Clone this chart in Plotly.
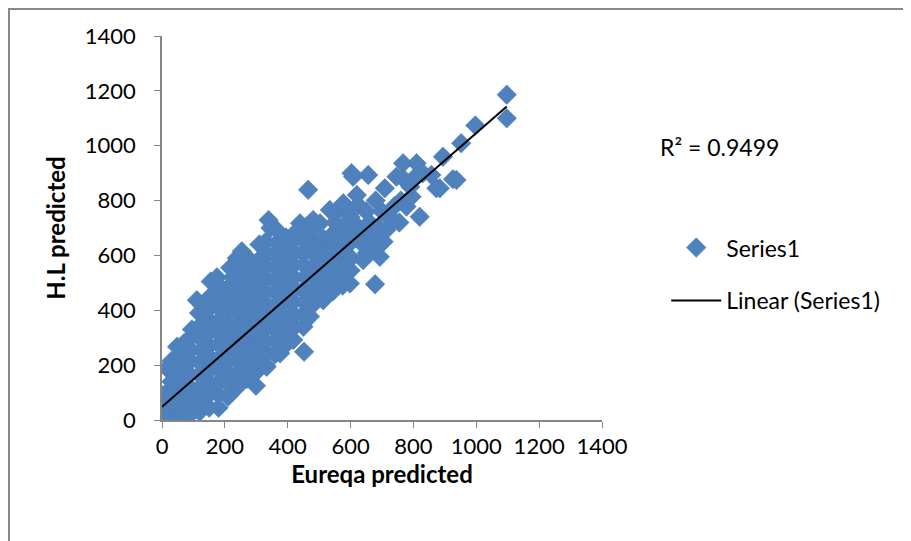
import plotly.graph_objects as go

# Eureqa predicted (x) and H.L predicted (y)
eureqa = [
    0, 5, 10, 0, 8, 3, 20, 25, 16, 30, 16, 37, 45, 40, 35, 30, 48, 55,
    60, 65, 62, 60, 58, 70, 80, 90, 88, 85, 90, 92, 90, 95, 100,
    111, 120, 115, 122, 118, 120, 125, 120, 122, 118, 128,
    150, 148, 152, 150, 155, 150, 148, 152, 150, 153, 155,
    180, 178, 182, 180, 185, 180, 178, 183, 180, 176, 175, 190,
    210, 212, 208, 210, 215, 210, 205, 212, 210, 217, 217, 225,
    240, 238, 242, 240, 245, 240, 238, 242, 240, 238, 245, 248, 254,
    270, 268, 272, 270, 275, 270, 268, 272, 270, 280, 275,
    299, 300, 302, 298, 300, 305, 300, 298, 302, 300, 305, 310,
    330, 333, 328, 330, 335, 330, 328, 332, 330, 335, 330, 339, 345, 333,
    360, 362, 358, 360, 365, 360, 358, 362, 360, 365, 365, 376,
    390, 392, 388, 390, 395, 390, 388, 392, 390, 395,
    418, 422, 420, 418, 425, 420, 418, 422, 420, 439, 430,
    452, 450, 448, 452, 450, 455, 450, 448, 452, 460, 465,
    471, 480, 478, 482, 480, 485, 480, 478, 481, 460,
    513, 510, 508, 512, 510, 515, 503, 524, 534, 534,
    545, 540, 542, 538, 540, 545, 556, 566, 550,
    575, 570, 572, 568, 577, 587, 587, 577, 570,
    598, 600, 602, 598, 603, 608, 624, 600, 610,
    640, 651, 656, 667, 683, 693, 678, 640, 660, 700, 714, 709, 735, 740,
    760, 746, 767, 768, 778, 794, 790, 810, 820, 800, 830, 857, 873, 884,
    894, 926, 937, 952, 997, 1097, 1097, 755, 720, 630, 650, 680, 620, 690, 705,
]
hl = [
    0, 10, 30, 50, 70, 90, 5, 45, 100, 140, 188, 0, 60, 110, 175, 215, 267, 20,
    10, 100, 150, 195, 235, 280, 50, 20, 120, 170, 215, 255, 300, 330, 80,
    437, 30, 75, 120, 165, 210, 255, 300, 345, 390, 420,
    45, 90, 135, 180, 225, 270, 315, 360, 405, 450, 505,
    45, 95, 140, 185, 230, 275, 320, 365, 410, 455, 520, 480,
    85, 130, 175, 220, 265, 310, 355, 400, 445, 490, 555, 520,
    120, 165, 210, 255, 300, 345, 390, 435, 480, 590, 525, 565, 615,
    150, 195, 240, 285, 330, 375, 420, 465, 510, 583, 550,
    125, 175, 220, 265, 310, 355, 400, 445, 490, 535, 580, 640,
    200, 245, 290, 335, 380, 425, 470, 515, 560, 605, 650, 729, 700, 194,
    240, 285, 330, 375, 420, 465, 510, 555, 600, 645, 693, 243,
    270, 315, 360, 405, 450, 495, 540, 585, 630, 665,
    292, 340, 385, 430, 475, 520, 565, 610, 655, 717, 690,
    249, 340, 385, 430, 475, 520, 565, 610, 655, 705, 839,
    377, 420, 465, 510, 555, 600, 645, 690, 729, 389,
    437, 480, 525, 570, 615, 660, 717, 462, 644, 766,
    470, 500, 545, 590, 635, 680, 760, 547, 720,
    490, 525, 570, 615, 705, 632, 766, 790, 660,
    498, 545, 590, 680, 900, 887, 784, 740, 720,
    583, 608, 893, 662, 632, 595, 495, 690, 720, 760, 693, 845, 729, 780,
    800, 887, 936, 880, 778, 814, 850, 936, 741, 880, 900, 893, 845, 845,
    960, 878, 875, 1009, 1074, 1186, 1100, 720, 740, 650, 760, 800, 820, 700, 650,
]

# Linear trendline as displayed by the chart
trend_slope = 0.9985
trend_intercept = 48.0
r_squared_label = "R² = 0.9499"

x_ticks = [0, 200, 400, 600, 800, 1000, 1200, 1400]
y_ticks = [0, 200, 400, 600, 800, 1000, 1200, 1400]

FONT = "Lato"

tx = [min(eureqa), max(eureqa)]
ty = [trend_slope * v + trend_intercept for v in tx]

fig = go.Figure()
fig.add_trace(go.Scatter(
    x=eureqa, y=hl, mode="markers", name="Series1", legendgroup="a",
    marker=dict(symbol="diamond", size=15, color="#4F81BD",
                line=dict(width=0.6, color="#4A7EBB")),
))
fig.add_trace(go.Scatter(
    x=tx, y=ty, mode="lines", name="Linear (Series1)", legendgroup="b",
    line=dict(color="black", width=2),
))

axis_common = dict(
    showgrid=False, zeroline=False, showline=True, linecolor="#868686",
    linewidth=1.5, ticks="outside", ticklen=6, tickcolor="#868686",
    tickfont=dict(family=FONT, size=22, color="black"),
    range=[0, 1400], tickvals=x_ticks,
)
fig.update_xaxes(**axis_common,
                 title=dict(text="<b>Eureqa predicted</b>",
                            font=dict(family=FONT, size=24, color="black"),
                            standoff=6))
fig.update_yaxes(**{**axis_common, "tickvals": y_ticks},
                 ticklabelstandoff=14,
                 title=dict(text="<b>H.L predicted</b>",
                            font=dict(family=FONT, size=24, color="black"),
                            standoff=12))

fig.add_annotation(x=1.127, y=0.711, xref="paper", yref="paper",
                   text=r_squared_label, showarrow=False,
                   xanchor="left", yanchor="middle",
                   font=dict(family=FONT, size=23, color="black"))

# outer chart border (only its top and left edges fall inside the picture)
fig.add_shape(type="rect", xref="paper", yref="paper",
              x0=-0.3477, y0=1.0703, x1=2.0, y1=-1.0,
              line=dict(color="#888888", width=2), layer="below")

fig.update_layout(
    width=911, height=541,
    margin=dict(l=154, r=317, t=28, b=129, autoexpand=False),
    paper_bgcolor="white", plot_bgcolor="white",
    showlegend=True,
    legend=dict(x=1.146, y=0.505, xanchor="left", yanchor="top",
                font=dict(family=FONT, size=23, color="black"),
                itemwidth=50,
                tracegroupgap=20, bgcolor="rgba(0,0,0,0)"),
)

fig.write_html("out.html")
